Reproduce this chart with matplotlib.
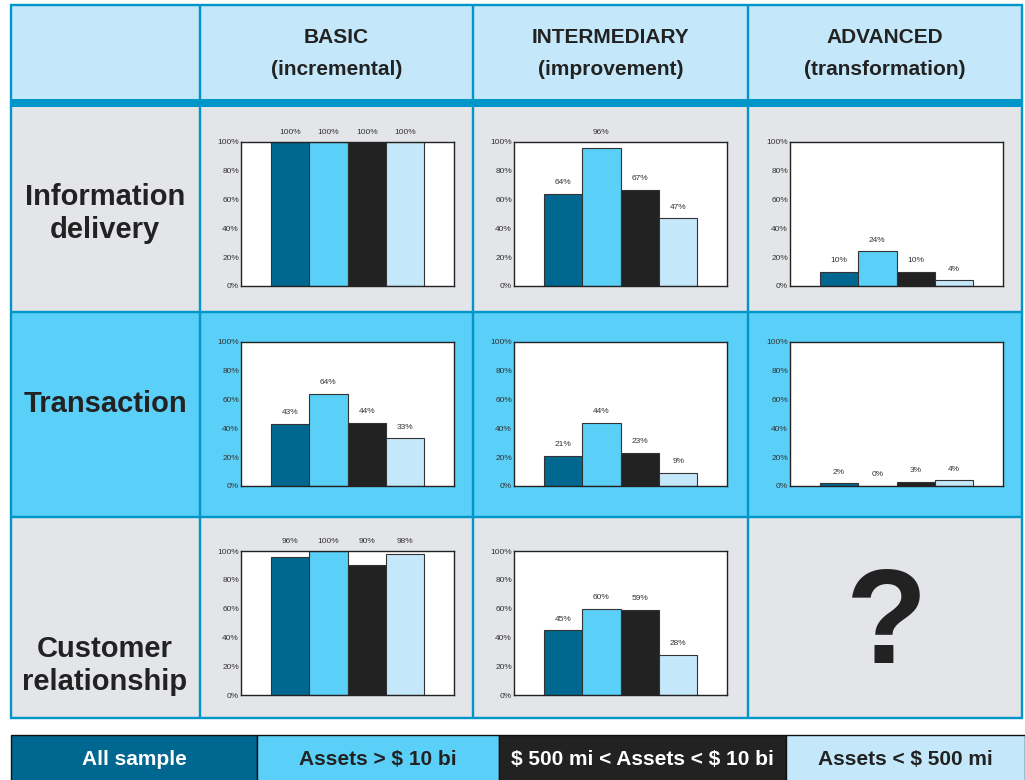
import matplotlib
matplotlib.use('Agg')
import matplotlib.pyplot as plt
from matplotlib.patches import Rectangle

plt.rcParams['font.family'] = ['Liberation Sans', 'DejaVu Sans']

# Data
groups = ['All sample', 'Assets > $ 10 bi', '$ 500 mi < Assets < $ 10 bi', 'Assets < $ 500 mi']
levels = ['BASIC', 'INTERMEDIARY', 'ADVANCED']
level_notes = ['(incremental)', '(improvement)', '(transformation)']
services = ['Information\ndelivery', 'Transaction', 'Customer\nrelationship']

info_basic = [100, 100, 100, 100]
info_inter = [64, 96, 67, 47]
info_adv = [10, 24, 10, 4]
trans_basic = [43, 64, 44, 33]
trans_inter = [21, 44, 23, 9]
trans_adv = [2, 0, 3, 4]
cust_basic = [96, 100, 90, 98]
cust_inter = [45, 60, 59, 28]

y_ticks = [0, 20, 40, 60, 80, 100]
y_tick_labels = ['0%', '20%', '40%', '60%', '80%', '100%']

# Colors
group_colors = ['#006890', '#5acff8', '#222222', '#c4e8f9']
group_text = ['white', '#222222', 'white', '#222222']
header_bg = '#c4e8f9'
gray_bg = '#e4e5e9'
sky_bg = '#5acff8'
line_blue = '#0096c9'
ink = '#222222'

W, H = 1025, 780
fig = plt.figure(figsize=(W / 100, H / 100), dpi=100)

# full-figure axes in pixel coords for the table layout
bg = fig.add_axes([0, 0, 1, 1])
bg.set_xlim(0, W)
bg.set_ylim(H, 0)
bg.axis('off')

col_edges = [11, 200, 473, 748, 1022]
row_edges = [5, 103, 312, 517, 718]
row_bgs = [header_bg, gray_bg, sky_bg, gray_bg]
for i, c in enumerate(row_bgs):
    bg.add_patch(Rectangle((col_edges[0], row_edges[i]), col_edges[-1] - col_edges[0],
                           row_edges[i + 1] - row_edges[i], color=c, lw=0, zorder=0))

px = 0.72  # points per pixel
for x in col_edges:
    bg.plot([x, x], [row_edges[0], row_edges[-1]], color=line_blue, lw=2.4 * px, zorder=2,
            solid_capstyle='butt')
for j, y in enumerate(row_edges):
    lw = 8 * px if j == 1 else 2.4 * px
    bg.plot([col_edges[0] - 1, col_edges[-1] + 1], [y, y], color=line_blue, lw=lw, zorder=2,
            solid_capstyle='butt')

# Column headers
for k in range(3):
    cx = (col_edges[k + 1] + col_edges[k + 2]) / 2
    bg.text(cx, 43, levels[k], ha='center', va='baseline', fontsize=15,
            fontweight='bold', color=ink)
    bg.text(cx, 75, level_notes[k], ha='center', va='baseline', fontsize=15,
            fontweight='bold', color=ink)

# Row labels
row_baselines = [[205, 238], [412], [657, 690]]
for name, bases in zip(services, row_baselines):
    for line, yb in zip(name.split('\n'), bases):
        bg.text(105, yb, line, ha='center', va='baseline', fontsize=21,
                fontweight='bold', color=ink)

# Question mark for the empty cell
bg.text(887, 663, '?', ha='center', va='baseline', fontsize=96, fontweight='bold', color=ink)

# Legend strip
leg_edges = [11, 257, 499, 786, 1025]
for i, g in enumerate(groups):
    bg.add_patch(Rectangle((leg_edges[i], 735), leg_edges[i + 1] - leg_edges[i], 50,
                           facecolor=group_colors[i], edgecolor='#111111', lw=1, zorder=1))
    bg.text((leg_edges[i] + leg_edges[i + 1]) / 2, 765, g, ha='center', va='baseline',
            fontsize=15, fontweight='bold', color=group_text[i], parse_math=False)

# Bar charts
panels = [
    [info_basic, info_inter, info_adv],
    [trans_basic, trans_inter, trans_adv],
    [cust_basic, cust_inter, None],
]
ax_lefts = [241, 514, 790]
ax_tops = [142, 342, 551]
ax_w, ax_h = 213, 144

for r, row in enumerate(panels):
    for c, vals in enumerate(row):
        if vals is None:
            continue
        x0, y0 = ax_lefts[c], ax_tops[r]
        ax = fig.add_axes([x0 / W, 1 - (y0 + ax_h) / H, ax_w / W, ax_h / H])
        ax.set_facecolor('white')
        xs = range(len(vals))
        ax.bar(xs, vals, width=1.0, color=group_colors, edgecolor='#333333', linewidth=0.8,
               zorder=2)
        ax.set_xlim(-1.27, 4.27)
        ax.set_ylim(0, 100)
        ax.set_xticks([])
        ax.set_yticks(y_ticks)
        ax.set_yticklabels(y_tick_labels)
        ax.tick_params(axis='y', length=0, pad=1.5, labelsize=6, labelcolor='#333333')
        for sp in ax.spines.values():
            sp.set_color('#222222')
            sp.set_linewidth(1.0)
            sp.set_zorder(3)
        for i, v in enumerate(vals):
            # near-full bars get their label just above the frame
            if v >= 90:
                yv, off = 100, 6.5
            else:
                yv, off = v, 8
            ax.annotate(f'{v}%', xy=(i, yv), xytext=(0, off), textcoords='offset points',
                        ha='center', va='center', fontsize=6, color='#333333',
                        annotation_clip=False)

plt.savefig('out.png', dpi=100)
